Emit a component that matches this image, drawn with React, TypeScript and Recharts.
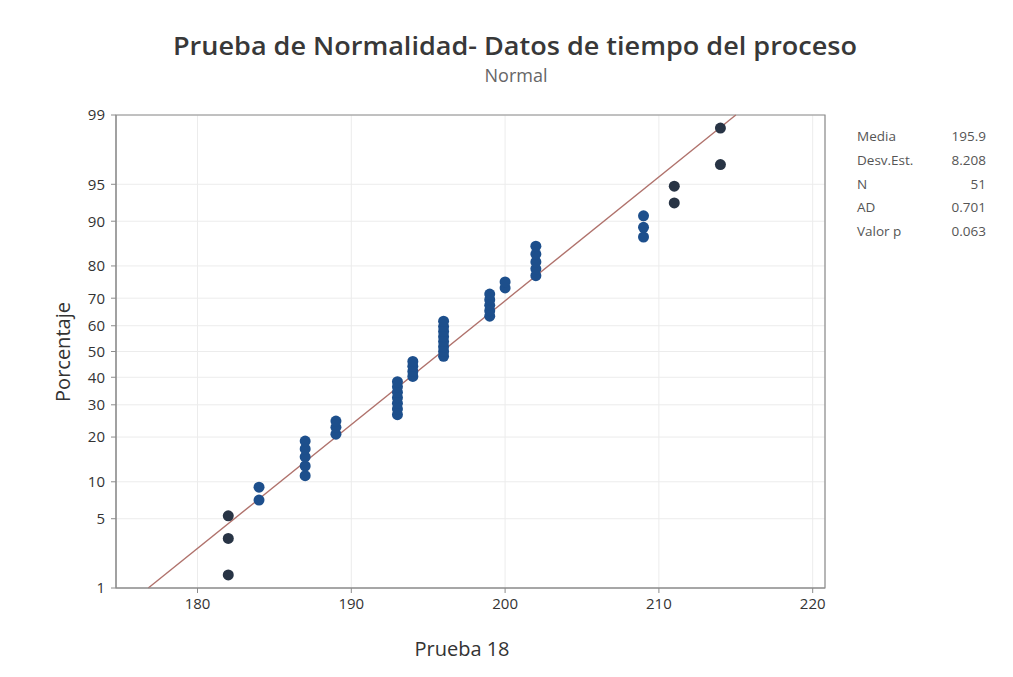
import { ComposedChart, Scatter, XAxis, YAxis, CartesianGrid, ReferenceLine, ReferenceArea } from "recharts";

// valores observados (Prueba 18) y su porcentaje acumulado en la gráfica
const prueba = [
  182, 182, 182, 184, 184, 187, 187, 187, 187, 187,
  189, 189, 189, 193, 193, 193, 193, 193, 193, 193,
  194, 194, 194, 194, 196, 196, 196, 196, 196, 196,
  196, 196, 199, 199, 199, 199, 199, 200, 200, 202,
  202, 202, 202, 202, 209, 209, 209, 211, 211, 214, 214,
];
const porcentaje = [
  1.4, 3.3, 5.3, 7.2, 9.1, 11.1, 13.0, 15.0, 16.9, 18.9,
  20.8, 22.8, 24.7, 26.7, 28.6, 30.5, 32.5, 34.4, 36.4, 38.3,
  40.3, 42.2, 44.2, 46.1, 48.1, 50.0, 51.9, 53.9, 55.8, 57.8,
  59.7, 61.7, 63.6, 65.6, 67.5, 69.5, 71.4, 73.4, 75.3, 77.2,
  79.2, 81.1, 83.1, 85.0, 87.0, 88.9, 90.9, 92.8, 94.8, 96.7, 98.6,
];

// recta ajustada (extremos en 1% y 99%)
const ajusteX = [176.8, 215.0];
const ajusteP = [1, 99];

const xTicks = [180, 190, 200, 210, 220];
const pctTicks = [1, 5, 10, 20, 30, 40, 50, 60, 70, 80, 90, 95, 99];

const statLabels = ["Media", "Desv.Est.", "N", "AD", "Valor p"];
const statValues = ["195.9", "8.208", "51", "0.701", "0.063"];

// inversa de la normal estándar (Acklam)
function probit(p: number) {
  const a = [-39.69683028665376, 220.9460984245205, -275.9285104469687, 138.357751867269, -30.66479806614716, 2.506628277459239];
  const b = [-54.47609879822406, 161.5858368580409, -155.6989798598866, 66.80131188771972, -13.28068155288572];
  const c = [-0.007784894002430293, -0.3223964580411365, -2.400758277161838, -2.549732539343734, 4.374664141464968, 2.938163982698783];
  const d = [0.007784695709041462, 0.3224671290700398, 2.445134137142996, 3.754408661907416];
  const plow = 0.02425;
  if (p < plow) {
    const q = Math.sqrt(-2 * Math.log(p));
    return (((((c[0] * q + c[1]) * q + c[2]) * q + c[3]) * q + c[4]) * q + c[5]) / ((((d[0] * q + d[1]) * q + d[2]) * q + d[3]) * q + 1);
  }
  if (p <= 1 - plow) {
    const q = p - 0.5;
    const r = q * q;
    return ((((((a[0] * r + a[1]) * r + a[2]) * r + a[3]) * r + a[4]) * r + a[5]) * q) / (((((b[0] * r + b[1]) * r + b[2]) * r + b[3]) * r + b[4]) * r + 1);
  }
  const q = Math.sqrt(-2 * Math.log(1 - p));
  return -(((((c[0] * q + c[1]) * q + c[2]) * q + c[3]) * q + c[4]) * q + c[5]) / ((((d[0] * q + d[1]) * q + d[2]) * q + d[3]) * q + 1);
}

const points = prueba.map((x, i) => ({ x, z: probit(porcentaje[i] / 100) }));
const zTicks = pctTicks.map((p) => probit(p / 100));
const zMin = probit(0.01);
const zMax = probit(0.99);
const xMin = 174.7;
const xMax = 220.8;

const font = "'Open Sans', 'DejaVu Sans', sans-serif";
const tickStyle = { fontSize: 15, fill: "#333", fontFamily: font };

const Dot = (props: any) => {
  const dark = props.payload.x <= 182 || props.payload.x >= 211;
  return <circle cx={props.cx} cy={props.cy} r={5.5} fill={dark ? "#283445" : "#1d4f8c"} />;
};

export default function App() {
  return (
    <div style={{ position: "absolute", left: 0, top: 0, width: 1013, height: 677, background: "#fff", fontFamily: font }}>
      <svg width={1013} height={100} style={{ position: "absolute", left: 0, top: 0 }}>
        <text x={173} y={55} textLength={684} lengthAdjust="spacingAndGlyphs" fontSize={26} fontWeight={600} fill="#383838" fontFamily={font}>
          Prueba de Normalidad- Datos de tiempo del proceso
        </text>
        <text x={516} y={82} textAnchor="middle" fontSize={18} fill="#666" fontFamily={font}>
          Normal
        </text>
      </svg>
      <ComposedChart width={1013} height={677} margin={{ top: 115, right: 188, bottom: 59, left: 56 }} accessibilityLayer={false} style={{ position: "absolute", left: 0, top: 0 }}>
        <CartesianGrid stroke="#ececec" />
        <XAxis
          type="number"
          dataKey="x"
          domain={[xMin, xMax]}
          ticks={xTicks}
          height={30}
          tick={tickStyle}
          tickSize={5}
          tickMargin={5}
          stroke="#8c8c8c"
          allowDataOverflow
        />
        <YAxis
          type="number"
          dataKey="z"
          domain={[zMin, zMax]}
          ticks={zTicks}
          width={60}
          tick={tickStyle}
          tickSize={5}
          tickMargin={6}
          stroke="#8c8c8c"
          allowDataOverflow
          tickFormatter={(v: number) => {
            let best = 0;
            zTicks.forEach((t, i) => {
              if (Math.abs(t - v) < Math.abs(zTicks[best] - v)) best = i;
            });
            return String(pctTicks[best]);
          }}
        />
        <ReferenceArea x1={xMin} x2={xMax} y1={zMin} y2={zMax} fill="none" stroke="#8c8c8c" strokeWidth={1.2} />
        <ReferenceLine
          segment={[
            { x: ajusteX[0], y: probit(ajusteP[0] / 100) },
            { x: ajusteX[1], y: probit(ajusteP[1] / 100) },
          ]}
          stroke="#b0726c"
          strokeWidth={1.4}
        />
        <Scatter data={points} dataKey="z" shape={<Dot />} isAnimationActive={false} />
      </ComposedChart>
      <div style={{ position: "absolute", left: 62, top: 352, transform: "translate(-50%, -50%) rotate(-90deg)", fontSize: 20, color: "#333", whiteSpace: "nowrap" }}>
        Porcentaje
      </div>
      <div style={{ position: "absolute", left: 462, top: 648, transform: "translate(-50%, -50%)", fontSize: 20, color: "#333", whiteSpace: "nowrap" }}>
        Prueba 18
      </div>
      <div style={{ position: "absolute", left: 857, top: 125, width: 129, fontSize: 13.5, color: "#555", lineHeight: "23.8px" }}>
        {statLabels.map((l, i) => (
          <div key={l} style={{ display: "flex", justifyContent: "space-between" }}>
            <span>{l}</span>
            <span>{statValues[i]}</span>
          </div>
        ))}
      </div>
    </div>
  );
}
